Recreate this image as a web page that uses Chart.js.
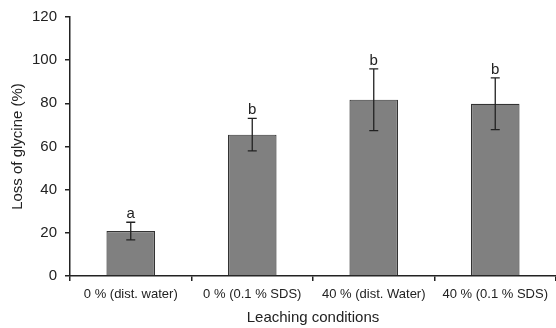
<!DOCTYPE html>
<html><head><meta charset="utf-8">
<script src="https://cdn.jsdelivr.net/npm/chart.js@4/dist/chart.umd.min.js"></script>
<style>html,body{margin:0;padding:0;background:#fff}#wrap{width:556px;height:328px}</style>
</head><body><div id="wrap"><canvas id="c" width="556" height="328"></canvas></div>
<script>
const categories = ["0 % (dist. water)", "0 % (0.1 % SDS)", "40 % (dist. Water)", "40 % (0.1 % SDS)"];
const lossValues = [20.8, 65.5, 81.7, 79.8];
const lossErrors = [4.1, 7.5, 14.3, 12.0];
const sigLetters = ["a", "b", "b", "b"];
const yTicks = [0, 20, 40, 60, 80, 100, 120];

const FONT = "'Liberation Sans', Arial, sans-serif";
const INK = '#222';

const errorPlugin = {
  id: 'errs',
  afterDatasetsDraw(chart) {
    const ctx = chart.ctx, y = chart.scales.y;
    const meta = chart.getDatasetMeta(0);
    ctx.save();
    ctx.strokeStyle = INK; ctx.lineWidth = 1.3;
    meta.data.forEach((bar, i) => {
      const x = bar.x;
      const t = y.getPixelForValue(lossValues[i] + lossErrors[i]);
      const b = y.getPixelForValue(lossValues[i] - lossErrors[i]);
      ctx.beginPath();
      ctx.moveTo(x, t); ctx.lineTo(x, b);
      ctx.moveTo(x - 4.5, t); ctx.lineTo(x + 4.5, t);
      ctx.moveTo(x - 4.5, b); ctx.lineTo(x + 4.5, b);
      ctx.stroke();
      ctx.fillStyle = INK;
      ctx.font = "15px " + FONT;
      ctx.textAlign = 'center'; ctx.textBaseline = 'alphabetic';
      ctx.fillText(sigLetters[i], x, t - 4);
    });
    ctx.restore();
  }
};

new Chart(document.getElementById('c'), {
  type: 'bar',
  data: {
    labels: categories,
    datasets: [{
      data: lossValues,
      backgroundColor: '#808080',
      borderColor: '#333',
      borderWidth: 1.2,
      barPercentage: 0.8,
      categoryPercentage: 0.5
    }]
  },
  options: {
    responsive: false,
    animation: false,
    devicePixelRatio: 1,
    layout: { padding: { top: 16, right: 0, bottom: 0, left: 0 } },
    plugins: { legend: { display: false }, tooltip: { enabled: false } },
    scales: {
      x: {
        offset: true,
        border: { display: true, color: INK, width: 1.5 },
        grid: { display: true, offset: true, drawOnChartArea: false, drawTicks: true, tickLength: 5, color: INK, lineWidth: 1.5 },
        ticks: { color: INK, font: { family: FONT, size: 13 }, padding: 6, maxRotation: 0, autoSkip: false },
        title: { display: true, text: 'Leaching conditions', color: INK, font: { family: FONT, size: 15 }, padding: { top: 4, bottom: 1 } },
        afterFit(s) { s.height = 52; }
      },
      y: {
        min: 0, max: 120,
        afterBuildTicks(s) { s.ticks = yTicks.map(v => ({ value: v })); },
        border: { display: true, color: INK, width: 1.5 },
        grid: { display: true, drawOnChartArea: false, drawTicks: true, tickLength: 5, color: INK, lineWidth: 1.5 },
        ticks: { color: INK, font: { family: FONT, size: 15 }, padding: 8 },
        title: { display: true, text: 'Loss of glycine (%)', color: INK, font: { family: FONT, size: 15 }, padding: { top: 9, bottom: 0 } },
        afterFit(s) { s.width = 70; }
      }
    }
  },
  plugins: [errorPlugin]
});
</script></body></html>
